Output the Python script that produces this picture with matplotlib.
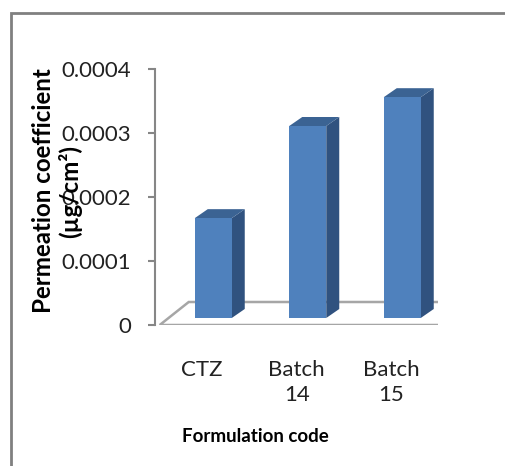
import matplotlib
matplotlib.use("Agg")
import matplotlib.pyplot as plt
from matplotlib.patches import Polygon, Rectangle

# data
categories = ["CTZ", "Batch\n14", "Batch\n15"]
values = [0.000156, 0.000300, 0.000345]
yticks = [0, 0.0001, 0.0002, 0.0003, 0.0004]
ytick_labels = ["0", "0.0001", "0.0002", "0.0003", "0.0004"]

plt.rcParams["font.family"] = ["Lato", "DejaVu Sans"]

front_c = "#4F81BD"
side_c = "#30527F"
top_c = "#3B6393"
grid_c = "#A6A6A6"

fig = plt.figure(figsize=(5.06, 4.66), dpi=100)
ax = fig.add_axes([155 / 506, 141 / 466, 283.5 / 506, 256 / 466])
ax.set_xlim(-0.5, 2.5)
ax.set_ylim(0, 0.0004)
for s in ax.spines.values():
    s.set_visible(False)
ax.spines["left"].set_visible(True)
ax.spines["left"].set_color("#868686")
ax.spines["left"].set_linewidth(1.5)
ax.patch.set_alpha(0)

# px -> data helpers for the fake 3d depth
px_x = 3 / 283.5
px_y = 0.0004 / 256

# floor
fl = [(-0.45, 0), (2.5, 0), (2.5 + 29 * px_x, 23 * px_y), (-0.45 + 29 * px_x, 23 * px_y)]
ax.add_patch(Polygon(fl, closed=True, facecolor="white", edgecolor=grid_c, lw=1.8, zorder=1))

# bars
w = 37 * px_x
shx, shy = 11 * px_x, 7 * px_y
dx, dy = 13 * px_x, 9 * px_y
xs = list(range(len(categories)))
bars = ax.bar([x + shx for x in xs], values, width=w, bottom=shy, color=front_c, zorder=3)
for b in bars:
    x0, y0 = b.get_x(), b.get_y()
    x1, y1 = x0 + b.get_width(), y0 + b.get_height()
    ax.add_patch(Polygon([(x1, y0), (x1 + dx, y0 + dy), (x1 + dx, y1 + dy), (x1, y1)],
                         closed=True, facecolor=side_c, edgecolor="none", zorder=2))
    ax.add_patch(Polygon([(x0, y1), (x1, y1), (x1 + dx, y1 + dy), (x0 + dx, y1 + dy)],
                         closed=True, facecolor=top_c, edgecolor="none", zorder=2))

ax.set_yticks(yticks)
ax.set_yticklabels(ytick_labels)
ax.tick_params(axis="y", direction="out", length=5, width=1.5, color="#868686",
               pad=12, labelsize=16, labelcolor="#222222")
ax.set_xticks(xs)
ax.set_xticklabels(categories, linespacing=1.35)
ax.tick_params(axis="x", length=0, pad=25, labelsize=16, labelcolor="#222222")

ax.set_ylabel("Permeation coefficient\n(µg/cm²)", fontsize=17.4, fontweight="bold",
              linespacing=1.15)
ax.yaxis.set_label_coords(-0.346, 0.523)
ax.yaxis.label.set_va("center")
ax.set_xlabel("Formulation code", fontsize=13.5, fontweight="bold")
ax.xaxis.set_label_coords(0.353, -0.4375)
ax.xaxis.label.set_va("center")

# outer frame of the chart area
fig.add_artist(Rectangle((10.5 / 506, -0.1), 1.2, (466 - 12.5) / 466 + 0.1,
                         transform=fig.transFigure, fill=False, edgecolor="#808080", lw=2))

fig.savefig("out.png", dpi=100)
